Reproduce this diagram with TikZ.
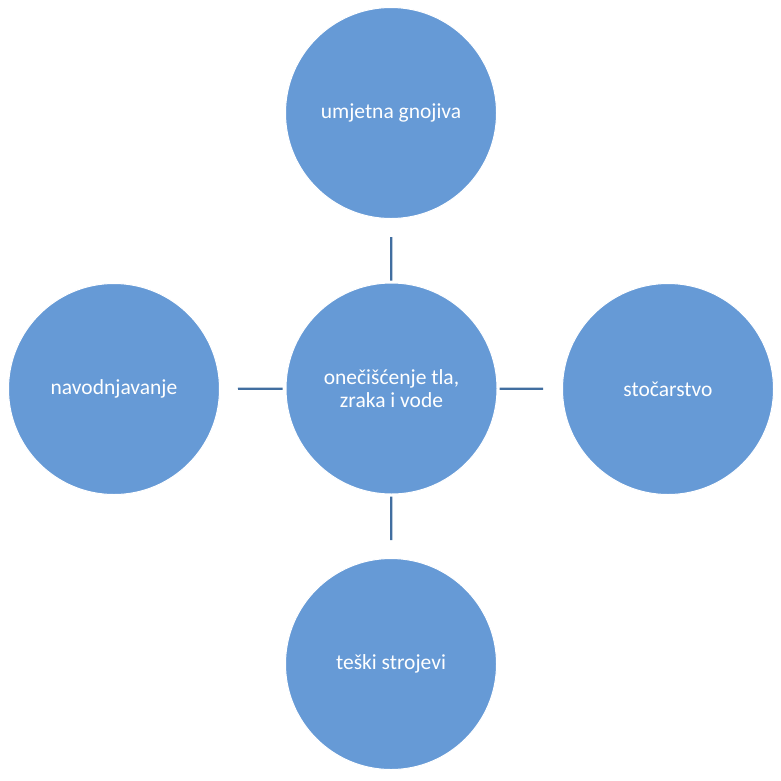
\documentclass[tikz,border=0pt]{standalone}
\usepackage{fontspec}
\setmainfont{Carlito}
\definecolor{bubble}{RGB}{102,154,214}
\definecolor{link}{RGB}{65,110,160}
\begin{document}
\begin{tikzpicture}[x=1pt, y=-1pt,
    bubble/.style={circle, fill=bubble, draw=white, line width=1pt, minimum size=211pt, inner sep=0pt,
      text=white, font=\fontsize{21.5}{23}\selectfont, align=center},
    link/.style={draw=link, line width=2.2pt}]
    \useasboundingbox (0,0) rectangle (781,780);

    \node[bubble] (c) at (391.5,388.5) {onečišćenje tla,\\zraka i vode};
    \node[bubble] (t) at (391,113) {umjetna gnojiva};
    \node[bubble] (l) at (114,389) {navodnjavanje};
    \node[bubble] (r) at (668,389) {stočarstvo};
    \node[bubble] (b) at (391,664) {teški strojevi};

    \draw[link, shorten <=18pt, shorten >=2pt] (t) -- (c);
    \draw[link, shorten <=18pt, shorten >=3pt] (l) -- (c);
    \draw[link, shorten <=2pt, shorten >=19pt] (c) -- (r);
    \draw[link, shorten <=2pt, shorten >=18pt] (c) -- (b);
  \end{tikzpicture}
\end{document}
